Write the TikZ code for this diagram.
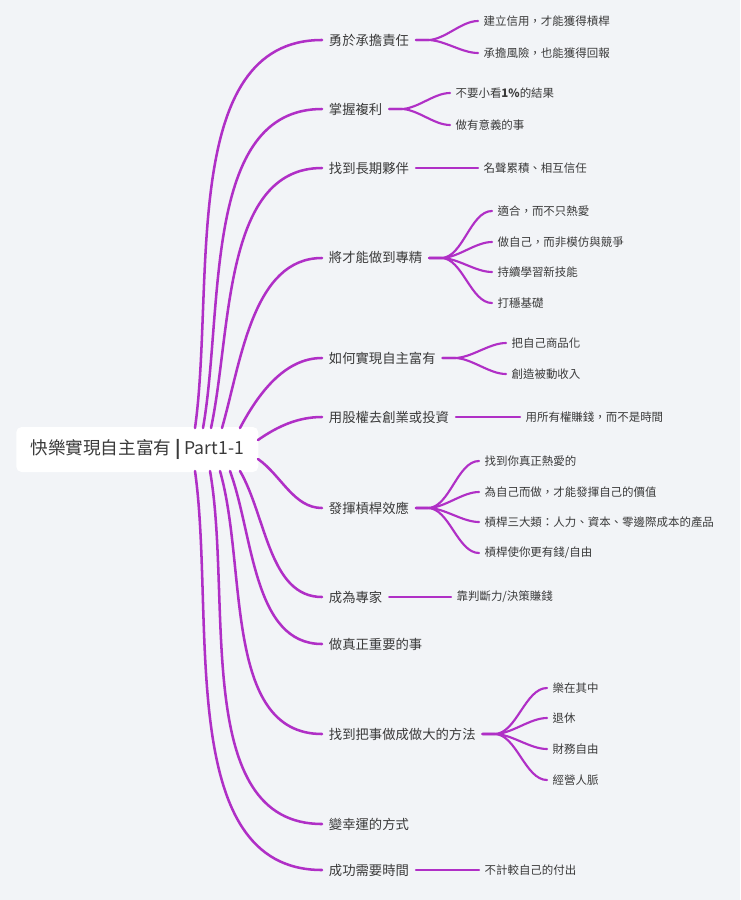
\documentclass[tikz,border=0pt]{standalone}
\usepackage{fontspec}
\setmainfont{Noto Sans CJK TC}[Script=CJK,Language=Chinese Traditional]
\definecolor{bg}{HTML}{F2F4F7}
\definecolor{ln}{HTML}{B02FC6}
\definecolor{tx}{HTML}{3A3A3A}
\begin{document}
\begin{tikzpicture}[x=0.75pt,y=-0.75pt,
  br/.style={anchor=west,inner xsep=5pt,inner ysep=2pt,font=\fontsize{10}{11}\selectfont,text=tx},
  ch/.style={anchor=west,inner xsep=4pt,inner ysep=2pt,font=\fontsize{8.6}{10}\selectfont,text=tx},
  lk/.style={draw=ln,line width=1.9pt,line cap=round},
  cl/.style={draw=ln,line width=1.6pt,line cap=round}]
\fill[bg] (0,0) rectangle (740,900);
\useasboundingbox (0,0) rectangle (740,900);
\node[fill=white,rounded corners=4pt,minimum width=242*0.75pt,minimum height=45*0.75pt,anchor=west,font=\fontsize{13.2}{15}\selectfont,text=tx,inner xsep=10pt] (root) at (16,449.5) {快樂實現自主富有 \textbf{|} Part1-1};
% branches
\node[br] (b1) at (322,40) {勇於承擔責任};
\node[br] (b2) at (322,109) {掌握複利};
\node[br] (b3) at (322,168) {找到長期夥伴};
\node[br] (b4) at (322,258) {將才能做到專精};
\node[br] (b5) at (322,358) {如何實現自主富有};
\node[br] (b6) at (322,417) {用股權去創業或投資};
\node[br] (b7) at (322,508) {發揮槓桿效應};
\node[br] (b8) at (322,597) {成為專家};
\node[br] (b9) at (322,644) {做真正重要的事};
\node[br] (b10) at (322,734) {找到把事做成做大的方法};
\node[br] (b11) at (322,824) {變幸運的方式};
\node[br] (b12) at (322,870) {成功需要時間};
% start coordinates
\coordinate (s1) at (195,428);
\coordinate (s2) at (203,428);
\coordinate (s3) at (211,428);
\coordinate (s4) at (222,428);
\coordinate (s5) at (240,428);
\coordinate (s6) at (258,440);
\coordinate (s7) at (258,459);
\coordinate (s8) at (240,471);
\coordinate (s9) at (230,471);
\coordinate (s10) at (220,471);
\coordinate (s11) at (210,471);
\coordinate (s12) at (195,471);
\foreach \i/\o in {1/82,2/80,3/78,4/74,5/62,6/35,7/-35,8/-60,9/-70,10/-74,11/-80,12/-82}{
  \draw[lk] (s\i) to[out=\o,in=180,looseness=0.9] (b\i.west);
}
% children
\node[ch] (c11) at (478,21) {建立信用，才能獲得槓桿};
\node[ch] (c12) at (478,53) {承擔風險，也能獲得回報};
\node[ch] (c21) at (450,93) {不要小看\textbf{1\%}的結果};
\node[ch] (c22) at (450,125) {做有意義的事};
\node[ch] (c31) at (478,168) {名聲累積、相互信任};
\node[ch] (c41) at (492,211) {適合，而不只熱愛};
\node[ch] (c42) at (492,242) {做自己，而非模仿與競爭};
\node[ch] (c43) at (492,272) {持續學習新技能};
\node[ch] (c44) at (492,303) {打穩基礎};
\node[ch] (c51) at (506,343) {把自己商品化};
\node[ch] (c52) at (506,374) {創造被動收入};
\node[ch] (c61) at (520,417) {用所有權賺錢，而不是時間};
\node[ch] (c71) at (479,461) {找到你真正熱愛的};
\node[ch] (c72) at (479,492) {為自己而做，才能發揮自己的價值};
\node[ch] (c73) at (479,522) {槓桿三大類：人力、資本、零邊際成本的產品};
\node[ch] (c74) at (479,553) {槓桿使你更有錢/自由};
\node[ch] (c81) at (451,597) {靠判斷力/決策賺錢};
\node[ch] (c101) at (547,688) {樂在其中};
\node[ch] (c102) at (547,718) {退休};
\node[ch] (c103) at (547,749) {財務自由};
\node[ch] (c104) at (547,780) {經營人脈};
\node[ch] (c121) at (479,870) {不計較自己的付出};
\foreach \p/\c in {b1/c11,b1/c12,b2/c21,b2/c22,b3/c31,b4/c41,b4/c42,b4/c43,b4/c44,b5/c51,b5/c52,b6/c61,b7/c71,b7/c72,b7/c73,b7/c74,b8/c81,b10/c101,b10/c102,b10/c103,b10/c104,b12/c121}{
  \draw[cl] (\p.east) -- ++(12,0) to[out=0,in=180,looseness=0.8] (\c.west);
}
\end{tikzpicture}
\end{document}
